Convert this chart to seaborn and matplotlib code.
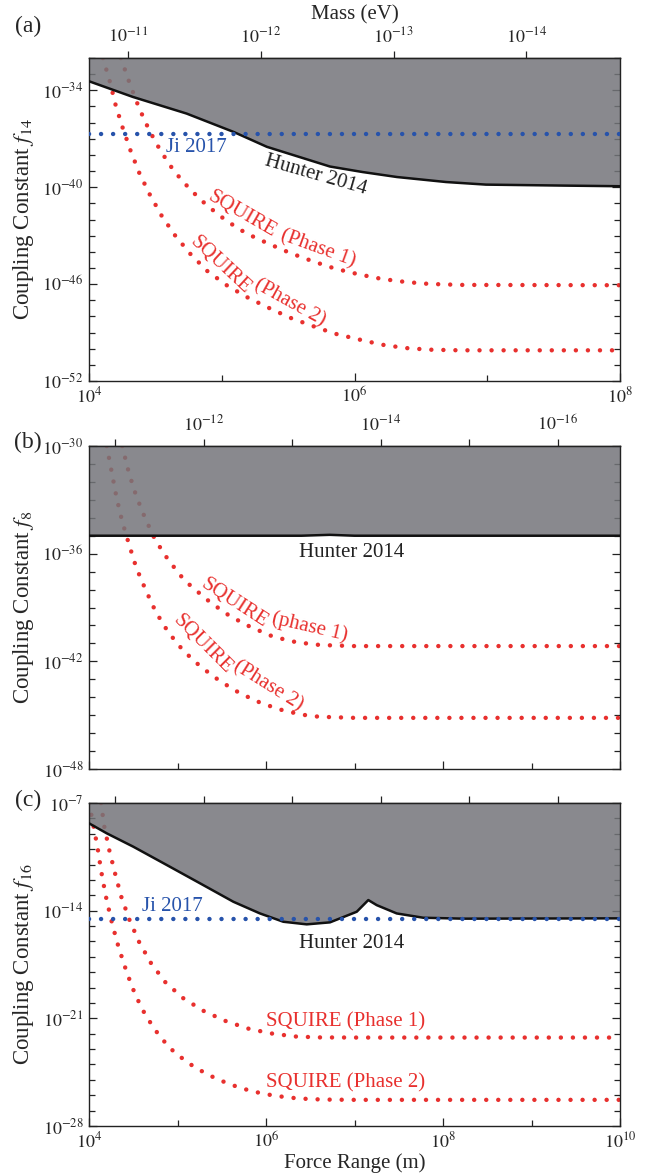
import numpy as np
import matplotlib
matplotlib.use("Agg")
import matplotlib.pyplot as plt
from matplotlib.ticker import FixedLocator, NullFormatter, NullLocator
import seaborn as sns

HBARC = 1.973e-7  # eV m, mass <-> force range

# all curves are stored as log10 values
# ---- (a) f14 ----
a_hunter_x = [4.0, 4.33, 4.735, 5.09, 5.34, 5.815, 6.06, 6.32, 6.69, 6.99, 7.57, 8.0]
a_hunter_y = [-33.44, -34.41, -35.44, -36.58, -37.5, -38.72, -39.06, -39.37, -39.68, -39.84, -39.9, -39.94]
a_ji_y = -36.68
a_p1_x = [4.24, 4.314, 4.379, 4.454, 4.540, 4.640, 4.761, 4.887, 5.037, 5.187, 5.35, 5.514,
          5.69, 5.853, 6.029, 6.205, 6.386, 6.563, 6.8, 8.0]
a_p1_y = [-32.0, -33.75, -35.13, -36.48, -37.76, -39.0, -40.13, -41.12, -42.09, -42.87, -43.49, -44.07,
          -44.6, -45.04, -45.39, -45.68, -45.87, -45.99, -46.05, -46.07]
a_p2_x = [4.105, 4.158, 4.201, 4.254, 4.314, 4.379, 4.457, 4.548, 4.648, 4.761, 4.891, 5.037,
          5.188, 5.351, 5.514, 5.69, 5.853, 6.029, 6.205, 6.386, 6.563, 6.8, 8.0]
a_p2_y = [-32.0, -33.49, -34.93, -36.33, -37.76, -39.12, -40.44, -41.78, -42.98, -44.11, -45.19, -46.07,
          -46.8, -47.46, -48.08, -48.61, -49.07, -49.42, -49.75, -49.96, -50.06, -50.1, -50.1]

# ---- (b) f8 ----
b_hunter_x = [4.0, 6.4, 6.72, 7.0, 10.0]
b_hunter_y = [-35.0, -35.0, -34.95, -35.0, -35.0]
b_p1_x = [4.375, 4.452, 4.534, 4.633, 4.749, 4.896, 5.066, 5.16, 5.375, 5.593, 5.819, 6.083,
          6.347, 6.61, 7.0, 10.0]
b_p1_y = [-30.0, -31.52, -32.79, -34.01, -35.24, -36.35, -37.41, -37.84, -38.73, -39.48, -40.07, -40.63,
          -40.94, -41.09, -41.15, -41.15]
b_p2_x = [4.2, 4.263, 4.313, 4.376, 4.452, 4.534, 4.641, 4.754, 4.896, 5.066, 5.262, 5.48,
          5.706, 5.951, 6.215, 6.478, 6.61, 7.0, 10.0]
b_p2_y = [-30.0, -31.62, -32.92, -34.22, -35.48, -36.78, -38.03, -39.24, -40.38, -41.41, -42.3, -43.1,
          -43.78, -44.34, -44.77, -45.03, -45.09, -45.15, -45.15]

# ---- (c) f16 ----
c_hunter_x = [4.0, 4.2, 4.5, 4.878, 5.254, 5.631, 5.932, 6.195, 6.46, 6.723, 7.025, 7.156,
              7.251, 7.477, 7.777, 8.229, 10.0]
c_hunter_y = [-8.32, -8.97, -9.84, -11.03, -12.22, -13.42, -14.18, -14.72, -14.89, -14.76, -14.07, -13.31,
              -13.64, -14.18, -14.46, -14.52, -14.5]
c_ji_y = -14.57
c_p1_x = [4.136, 4.173, 4.229, 4.294, 4.365, 4.455, 4.565, 4.697, 4.859, 5.059, 5.292, 5.537,
          5.793, 6.056, 6.328, 6.599, 7.0, 10.0]
c_p1_y = [-7.0, -8.54, -10.06, -11.57, -13.1, -14.57, -16.02, -17.38, -18.63, -19.67, -20.51, -21.16,
          -21.66, -21.98, -22.18, -22.24, -22.25, -22.25]
c_p2_x = [4.0, 4.049, 4.098, 4.139, 4.189, 4.249, 4.316, 4.395, 4.486, 4.595, 4.734, 4.904,
          5.111, 5.337, 5.585, 5.838, 6.102, 6.365, 6.629, 7.0, 10.0]
c_p2_y = [-7.0, -8.43, -9.95, -11.47, -13.03, -14.55, -16.02, -17.47, -18.95, -20.35, -21.66, -22.89,
          -23.87, -24.65, -25.28, -25.74, -26.04, -26.21, -26.28, -26.3, -26.3]

RED = '#e8302e'
BLUE = '#2753ab'
GRAY = '#74757a'
TXT = 15

sns.set_theme(style='ticks')
plt.rcParams['font.family'] = ['Liberation Serif', 'DejaVu Serif']
plt.rcParams['mathtext.fontset'] = 'stix'
plt.rcParams['axes.edgecolor'] = '#222222'
plt.rcParams['axes.linewidth'] = 1.0


def dotted(ax, xs, ys, color, z=1):
    sns.lineplot(x=10 ** np.array(xs), y=10 ** np.array(ys), ax=ax, color=color, lw=3.2,
                 linestyle=(0, (0.01, 2.7)), dash_capstyle='round', zorder=z)


def pow_label(e):
    return r'$10^{%d}$' % e


def setup_axes(ax, xlim, ylim, xmajor, ylabels, xlabels, ylabel):
    ax.set_xscale('log')
    ax.set_yscale('log')
    ax.set_xlim(10.0 ** xlim[0], 10.0 ** xlim[1])
    ax.set_ylim(10.0 ** ylim[0], 10.0 ** ylim[1])
    ax.xaxis.set_major_locator(FixedLocator([10.0 ** e for e in xmajor]))
    ax.xaxis.set_minor_locator(FixedLocator([10.0 ** e for e in range(xlim[0], xlim[1] + 1)]))
    ax.yaxis.set_major_locator(FixedLocator([10.0 ** e for e in ylabels]))
    ax.yaxis.set_minor_locator(FixedLocator([10.0 ** e for e in range(ylim[0], ylim[1] + 1)]))
    ax.yaxis.set_minor_formatter(NullFormatter())
    ax.xaxis.set_minor_formatter(NullFormatter())
    ax.set_yticklabels([pow_label(e) for e in ylabels])
    if xlabels:
        ax.set_xticklabels([pow_label(e) for e in xmajor])
    else:
        ax.set_xticklabels([])
    ax.tick_params(which='both', direction='in', top=False, right=True, labelsize=13,
                   color='#222222', width=0.9)
    ax.tick_params(which='major', length=6, pad=4)
    ax.tick_params(which='minor', length=4)
    ax.set_ylabel(ylabel, fontsize=16.5)
    ax.yaxis.set_label_coords(-0.10, 0.5)


def mass_axis(ax, ticks, labelled, title=None):
    sec = ax.secondary_xaxis('top', functions=(lambda x: HBARC / x, lambda m: HBARC / m))
    sec.xaxis.set_major_locator(FixedLocator([10.0 ** e for e in ticks]))
    sec.xaxis.set_minor_locator(NullLocator())
    sec.set_xticklabels([pow_label(e) if e in labelled else '' for e in ticks])
    sec.tick_params(direction='out', length=5, labelsize=13, pad=3, color='#222222', width=0.9)
    if title:
        sec.set_xlabel(title, fontsize=15, labelpad=5)
    return sec


fig = plt.figure(figsize=(6.59, 11.76), dpi=100)
L, W, H = 89 / 659, 531 / 659, 323 / 1176
ax_a = fig.add_axes([L, (1176 - 381) / 1176, W, H])
ax_b = fig.add_axes([L, (1176 - 769) / 1176, W, H])
ax_c = fig.add_axes([L, (1176 - 1126) / 1176, W, H])

# ---------------- panel (a) ----------------
ax = ax_a
setup_axes(ax, (4, 8), (-52, -32), [4, 6, 8], [-52, -46, -40, -34], True,
           r'Coupling Constant $f_{14}$')
dotted(ax, a_p1_x, a_p1_y, RED)
dotted(ax, a_p2_x, a_p2_y, RED)
hx = 10 ** np.array(a_hunter_x)
ax.fill_between(hx, 10 ** np.array(a_hunter_y), 1e-20, color=GRAY, alpha=0.85, lw=0, zorder=2)
sns.lineplot(x=hx, y=10 ** np.array(a_hunter_y), ax=ax, color='#111111', lw=1.8, zorder=3)
dotted(ax, [4, 8], [a_ji_y, a_ji_y], BLUE, z=4)
mass_axis(ax, [-11, -12, -13, -14], [-11, -12, -13, -14], 'Mass (eV)')
ax.text(10 ** 4.81, 10 ** -37.57, 'Ji 2017', color=BLUE, fontsize=TXT, ha='center', va='center')
ax.text(10 ** 5.71, 10 ** -39.24, 'Hunter 2014', color='#222222', fontsize=TXT, ha='center',
        va='center', rotation=-16, rotation_mode='anchor')
ax.text(10 ** 5.15, 10 ** -41.67, 'SQUIRE', color=RED, fontsize=TXT, ha='center', va='center',
        rotation=-30, rotation_mode='anchor')
ax.text(10 ** 5.725, 10 ** -43.8, '(Phase 1)', color=RED, fontsize=TXT, ha='center', va='center',
        rotation=-20, rotation_mode='anchor')
ax.text(10 ** 4.99, 10 ** -44.82, 'SQUIRE', color=RED, fontsize=TXT, ha='center', va='center',
        rotation=-43, rotation_mode='anchor')
ax.text(10 ** 5.51, 10 ** -47.17, '(Phase 2)', color=RED, fontsize=TXT, ha='center', va='center',
        rotation=-29, rotation_mode='anchor')
ax.set_xlabel('')

# ---------------- panel (b) ----------------
ax = ax_b
setup_axes(ax, (4, 10), (-48, -30), [4, 6, 8, 10], [-48, -42, -36, -30], False,
           r'Coupling Constant $f_{8}$')
dotted(ax, b_p1_x, b_p1_y, RED)
dotted(ax, b_p2_x, b_p2_y, RED)
hx = 10 ** np.array(b_hunter_x)
ax.fill_between(hx, 10 ** np.array(b_hunter_y), 1e-20, color=GRAY, alpha=0.85, lw=0, zorder=2)
sns.lineplot(x=hx, y=10 ** np.array(b_hunter_y), ax=ax, color='#111111', lw=1.8, zorder=3)
mass_axis(ax, [-11, -12, -13, -14, -15, -16], [-12, -14, -16])
ax.text(10 ** 6.97, 10 ** -35.96, 'Hunter 2014', color='#222222', fontsize=TXT, ha='center', va='center')
ax.text(10 ** 5.64, 10 ** -38.75, 'SQUIRE', color=RED, fontsize=TXT, ha='center', va='center',
        rotation=-33, rotation_mode='anchor')
ax.text(10 ** 6.50, 10 ** -40.09, '(phase 1)', color=RED, fontsize=TXT, ha='center', va='center',
        rotation=-13, rotation_mode='anchor')
ax.text(10 ** 5.28, 10 ** -41.04, 'SQUIRE', color=RED, fontsize=TXT, ha='center', va='center',
        rotation=-45, rotation_mode='anchor')
ax.text(10 ** 6.02, 10 ** -43.38, '(Phase 2)', color=RED, fontsize=TXT, ha='center', va='center',
        rotation=-32, rotation_mode='anchor')
ax.set_xlabel('')

# ---------------- panel (c) ----------------
ax = ax_c
setup_axes(ax, (4, 10), (-28, -7), [4, 6, 8, 10], [-28, -21, -14, -7], True,
           r'Coupling Constant $f_{16}$')
dotted(ax, c_p1_x, c_p1_y, RED)
dotted(ax, c_p2_x, c_p2_y, RED)
hx = 10 ** np.array(c_hunter_x)
ax.fill_between(hx, 10 ** np.array(c_hunter_y), 1.0, color=GRAY, alpha=0.85, lw=0, zorder=2)
sns.lineplot(x=hx, y=10 ** np.array(c_hunter_y), ax=ax, color='#111111', lw=1.8, zorder=3)
dotted(ax, [4, 10], [c_ji_y, c_ji_y], BLUE, z=4)
mass_axis(ax, [-11, -12, -13, -14, -15, -16], [])
ax.text(10 ** 4.94, 10 ** -13.70, 'Ji 2017', color=BLUE, fontsize=TXT, ha='center', va='center')
ax.text(10 ** 6.97, 10 ** -16.11, 'Hunter 2014', color='#222222', fontsize=TXT, ha='center', va='center')
ax.text(10 ** 6.90, 10 ** -21.25, 'SQUIRE (Phase 1)', color=RED, fontsize=TXT, ha='center', va='center')
ax.text(10 ** 6.90, 10 ** -25.22, 'SQUIRE (Phase 2)', color=RED, fontsize=TXT, ha='center', va='center')
ax.set_xlabel('Force Range (m)', fontsize=15, labelpad=1)

for lab, yy in [('(a)', 26), ('(b)', 442), ('(c)', 800)]:
    fig.text(28 / 659, 1 - yy / 1176, lab, fontsize=17, ha='center', va='center')

fig.savefig('out.png', dpi=100)
